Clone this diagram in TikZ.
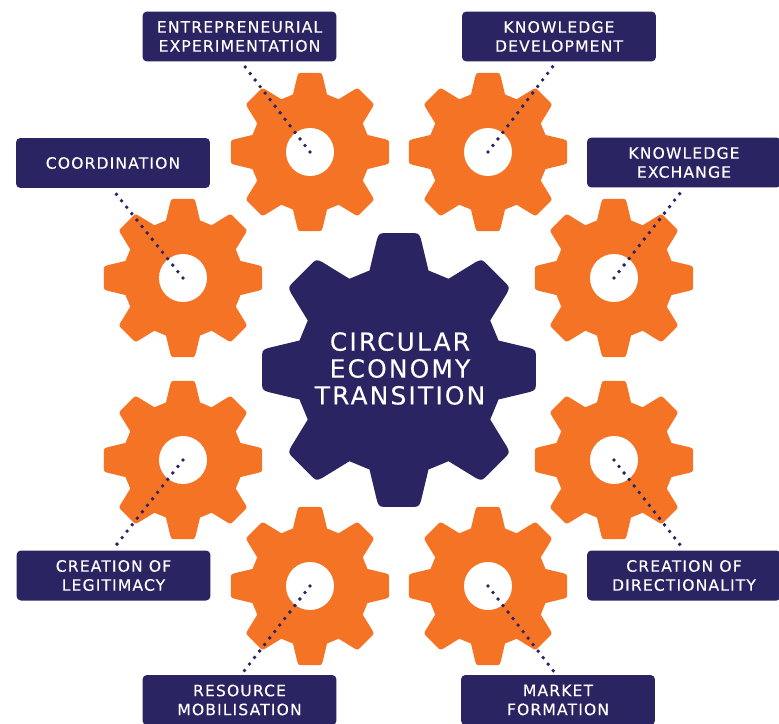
\documentclass[tikz,border=0pt]{standalone}
\usepackage{fontspec}
\setmainfont{DejaVu Sans}[LetterSpace=7,FakeBold=0.2]
\newfontfamily\centrefont{DejaVu Sans}[LetterSpace=8.5,FakeBold=0.2]
\usetikzlibrary{calc}
\definecolor{navy}{HTML}{2B2463}
\definecolor{gearorange}{HTML}{F57325}
\tikzset{
	gear/.pic={
		\fill[pic actions] (-16.5:60)
			\foreach \a in {0,45,...,315} {
				-- (\a-16.5:60) -- (\a-9.6:76.5) .. controls (\a-8.2:80) .. (\a-4.5:79.4)
				-- (\a+4.5:79.4) .. controls (\a+8.2:80) .. (\a+9.6:76.5) -- (\a+16.5:60)
			} -- cycle;
	},
	labelbox/.style={fill=navy, text=white, rounded corners=2.5pt, minimum width=3.88cm, minimum height=1cm,
		inner sep=0pt, align=center, font=\fontsize{8.9}{10.8}\selectfont},
	dotline/.style={navy, line width=2.2pt, line cap=round, dash pattern=on 0pt off 4.68pt}
}
\begin{document}
\begin{tikzpicture}[x=0.02cm,y=-0.02cm]
	\useasboundingbox (0,0) rectangle (779,724);

	% Small gears
	\foreach \name/\x/\y in {gentre/310/152, gknowdev/488/152, gcoord/183/278, gexch/614/278,
		glegit/183/460, gdirect/614/460, gres/310/586, gmarket/488/586} {
		\pic[fill=gearorange] at (\x,\y) {gear};
		\node[circle, fill=white, minimum size=0.96cm, inner sep=0pt] (\name) at (\x,\y) {};
	}

	% Central gear
	\pic[fill=navy, scale=1.73] at (399,370) {gear};
	\node[text=white, align=center, font=\centrefont\fontsize{14.2}{15.3}\selectfont] (centre) at (400,368.5) {CIRCULAR\\ECONOMY\\TRANSITION};

	% Labels
	\node[labelbox] (entre) at (239.5,36.5) {ENTREPRENEURIAL\\EXPERIMENTATION};
	\node[labelbox] (knowdev) at (559,36.5) {KNOWLEDGE\\DEVELOPMENT};
	\node[labelbox] (coord) at (113,163) {COORDINATION};
	\node[labelbox] (exch) at (684,162.5) {KNOWLEDGE\\EXCHANGE};
	\node[labelbox] (legit) at (113.5,575.5) {CREATION OF\\LEGITIMACY};
	\node[labelbox] (direct) at (684,575.5) {CREATION OF\\DIRECTIONALITY};
	\node[labelbox] (res) at (239.5,700) {RESOURCE\\MOBILISATION};
	\node[labelbox] (market) at (558,700) {MARKET\\FORMATION};

	% Dotted connectors
	\draw[dotline] (gentre.center) -- ([xshift=2.7pt,yshift=-2.2pt]entre.south);
	\draw[dotline] (gknowdev.center) -- ([xshift=-3.2pt,yshift=-2.2pt]knowdev.south);
	\draw[dotline] (gcoord.center) -- ([xshift=1pt,yshift=-2.2pt]coord.south);
	\draw[dotline] (gexch.center) -- ([xshift=-1.6pt,yshift=-2.2pt]exch.south);
	\draw[dotline] (glegit.center) -- ([xshift=1pt,yshift=2.2pt]legit.north);
	\draw[dotline] (gdirect.center) -- ([xshift=-1.6pt,yshift=2.2pt]direct.north);
	\draw[dotline] (gres.center) -- ([xshift=2.7pt,yshift=2.2pt]res.north);
	\draw[dotline] (gmarket.center) -- ([xshift=-2.7pt,yshift=2.2pt]market.north);
\end{tikzpicture}
\end{document}
